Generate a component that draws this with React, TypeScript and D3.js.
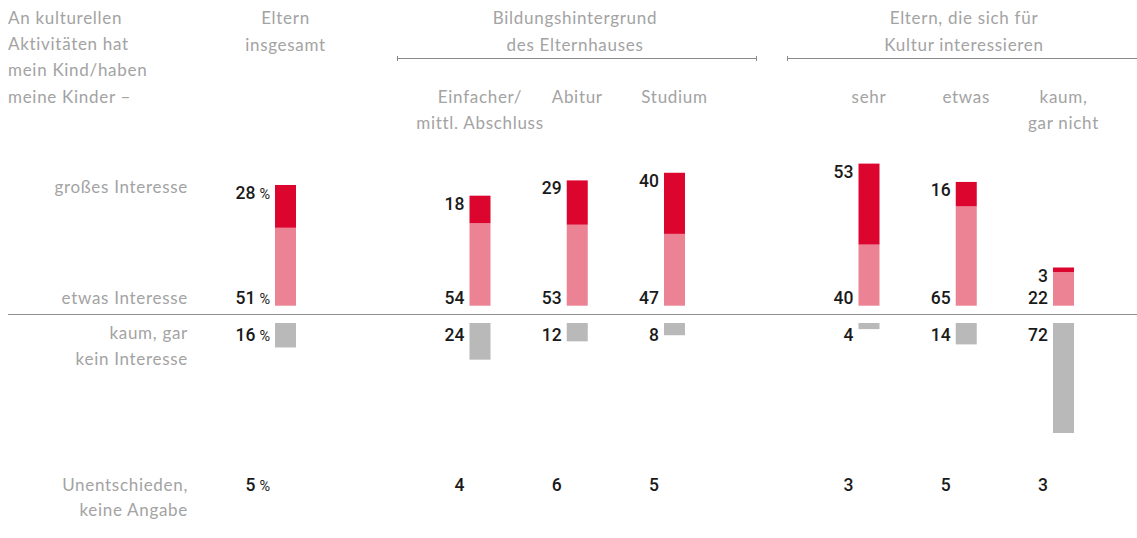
import * as d3 from "d3";

// column slots leave a gap between groups
const columns = ["Eltern insgesamt", "Einfacher/mittl. Abschluss", "Abitur", "Studium", "sehr", "etwas", "kaum, gar nicht"];
const slots = [0, 2, 3, 4, 6, 7, 8];
const columnHeaders = [[], ["Einfacher/", "mittl. Abschluss"], ["Abitur"], ["Studium"], ["sehr"], ["etwas"], ["kaum,", "gar nicht"]];

const grossesInteresse = [28, 18, 29, 40, 53, 16, 3];
const etwasInteresse = [51, 54, 53, 47, 40, 65, 22];
const keinInteresse = [16, 24, 12, 8, 4, 14, 72];
const unentschieden = [5, 4, 6, 5, 3, 5, 3];

const introLines = ["An kulturellen", "Aktivitäten hat", "mein Kind/haben", "meine Kinder –"];

const W = 1137;
const H = 538;
const GRAY = "#a3a3a3";
const DARK = "#dc052d";
const LIGHT = "#ec8394";
const BAR_GRAY = "#b9b9b9";
const LABEL_FONT = "Lato, 'Open Sans', sans-serif";
const NUM_FONT = "Roboto, 'Liberation Sans', sans-serif";

export default function App() {
  const x = d3.scaleLinear().domain([0, 8]).range([275, 275 + 8 * 97.25]);
  const barW = 21;
  const y = d3.scaleLinear().domain([0, 100]).range([0, 152.8]);
  const posBase = 305.7;
  const negBase = 323;
  const lineY = 314.5;

  const num = (v: number, i: number) => (
    <>
      {v}
      {i === 0 && <tspan fontSize={14.5} fontWeight={400} dx={4}>%</tspan>}
    </>
  );

  return (
    <svg width={W} height={H} style={{ position: "absolute", left: 0, top: 0, display: "block" }}>
      <rect width={W} height={H} fill="#fff" />

      {/* intro text */}
      <g fontFamily={LABEL_FONT} fontSize={17} fill={GRAY} letterSpacing={0.7}>
        {introLines.map((t, i) => (
          <text key={i} x={8} y={24 + i * 26.2}>{t}</text>
        ))}
        <text x={x(0) + barW / 2} y={24} textAnchor="middle">Eltern</text>
        <text x={x(0) + barW / 2} y={50.5} textAnchor="middle">insgesamt</text>
        <text x={575} y={24} textAnchor="middle">Bildungshintergrund</text>
        <text x={575} y={50.5} textAnchor="middle">des Elternhauses</text>
        <text x={964} y={24} textAnchor="middle">Eltern, die sich für</text>
        <text x={964} y={50.5} textAnchor="middle">Kultur interessieren</text>

        {columnHeaders.map((lines, i) =>
          lines.map((t, j) => (
            <text key={i + "-" + j} x={x(slots[i]) + barW / 2} y={102.5 + j * 26} textAnchor="middle">{t}</text>
          ))
        )}

        {/* row labels */}
        <g textAnchor="end">
          <text x={188} y={192.5}>großes Interesse</text>
          <text x={188} y={304}>etwas Interesse</text>
          <text x={188} y={339}>kaum, gar</text>
          <text x={188} y={365}>kein Interesse</text>
          <text x={188} y={490.5}>Unentschieden,</text>
          <text x={188} y={516}>keine Angabe</text>
        </g>
      </g>

      {/* group brackets */}
      <g stroke="#8a8a8a" strokeWidth={1}>
        <line x1={397} x2={757} y1={58.5} y2={58.5} />
        <line x1={397.5} x2={397.5} y1={56} y2={61} />
        <line x1={756.5} x2={756.5} y1={56} y2={61} />
        <line x1={787} x2={W} y1={58.5} y2={58.5} />
        <line x1={787.5} x2={787.5} y1={56} y2={61} />
      </g>

      {/* baseline */}
      <line x1={8} x2={W} y1={lineY} y2={lineY} stroke="#8f8f8f" strokeWidth={1.2} />

      {columns.map((c, i) => {
        const bx = x(slots[i]);
        const lx = bx - 5;
        const hEtwas = y(etwasInteresse[i]);
        const hGross = y(grossesInteresse[i]);
        const hKein = y(keinInteresse[i]);
        const top = posBase - hEtwas - hGross;
        return (
          <g key={c}>
            <rect x={bx} y={posBase - hEtwas} width={barW} height={hEtwas} fill={LIGHT} />
            <rect x={bx} y={top} width={barW} height={hGross} fill={DARK} />
            <rect x={bx} y={negBase} width={barW} height={hKein} fill={BAR_GRAY} />
            <g fontFamily={NUM_FONT} fontSize={17.5} fontWeight={500} fill="#1a1a1a" textAnchor="end">
              <text x={lx} y={top + 14}>{num(grossesInteresse[i], i)}</text>
              <text x={lx} y={posBase - 1.5}>{num(etwasInteresse[i], i)}</text>
              <text x={lx} y={341}>{num(keinInteresse[i], i)}</text>
              <text x={lx} y={490.5}>{num(unentschieden[i], i)}</text>
            </g>
          </g>
        );
      })}
    </svg>
  );
}
